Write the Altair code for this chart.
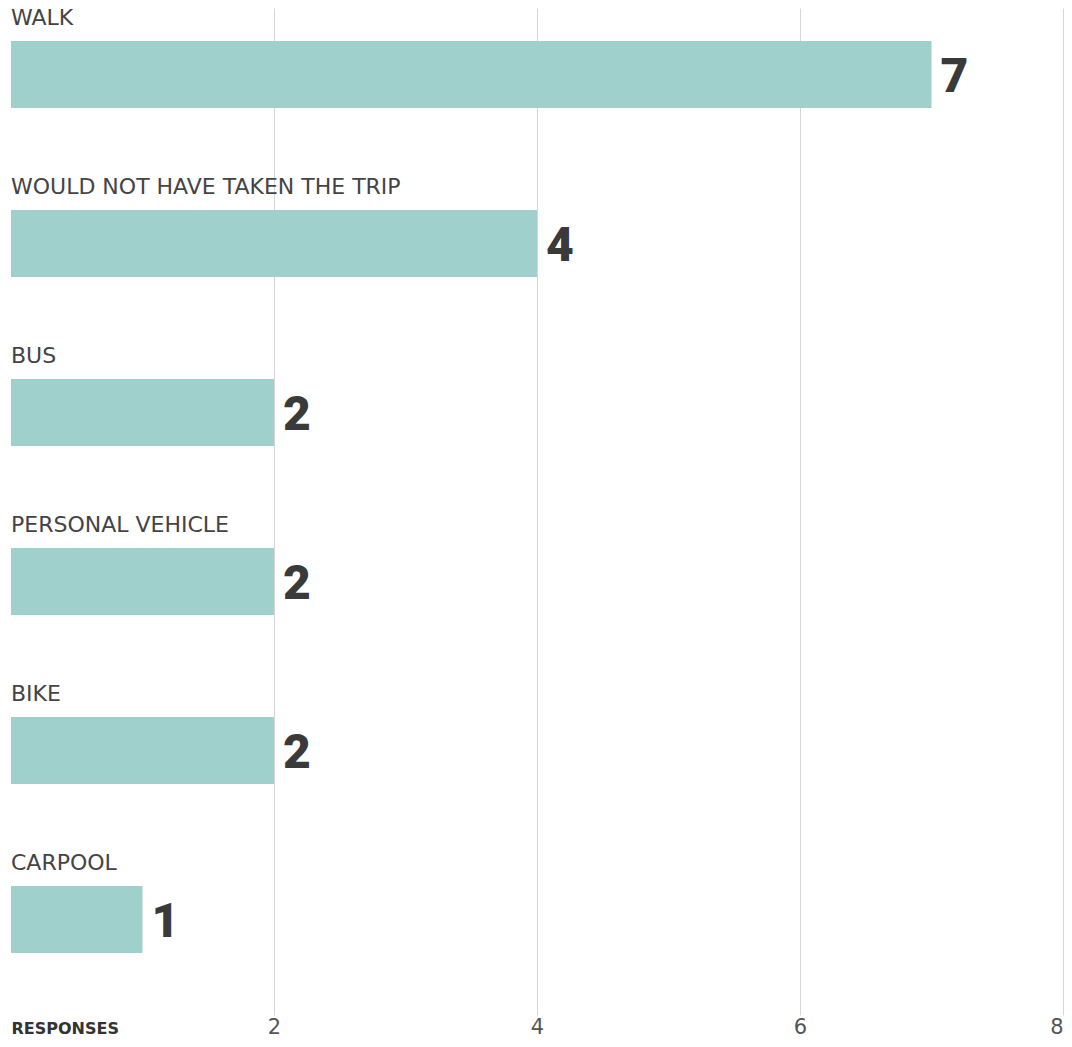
import altair as alt
import pandas as pd

categories = ["WALK", "WOULD NOT HAVE TAKEN THE TRIP", "BUS", "PERSONAL VEHICLE", "BIKE", "CARPOOL"]
responses = [7, 4, 2, 2, 2, 1]
tick_values = [2, 4, 6, 8]

df = pd.DataFrame({"mode": categories, "responses": responses})

y_enc = alt.Y(
    "mode:N",
    sort=categories,
    axis=None,
    scale=alt.Scale(paddingInner=0.6036, paddingOuter=0.281, align=0.347),
)

x_scale = alt.Scale(domain=[0, 8], nice=False, zero=True)

base = alt.Chart(df)

bars = base.mark_bar(color="#9fd0cb").encode(
    x=alt.X(
        "responses:Q",
        scale=x_scale,
        axis=alt.Axis(
            values=tick_values,
            format="d",
            grid=True,
            gridColor="#d6d6d6",
            gridWidth=1,
            domain=False,
            ticks=False,
            tickSize=0,
            labelFont="DejaVu Sans",
            labelFontSize=21,
            labelColor="#555555",
            labelBaseline="alphabetic",
            labelPadding=18,
            labelFlush=True,
            title="RESPONSES",
            titleFont="DejaVu Sans",
            titleFontSize=16,
            titleFontWeight="bold",
            titleColor="#333333",
            titleAnchor="start",
            titleAlign="left",
            titleBaseline="alphabetic",
            titleX=0,
            titleY=18,
        ),
    ),
    y=y_enc,
)

cat_labels = base.mark_text(
    align="left",
    baseline="alphabetic",
    dy=-49.5,
    font="DejaVu Sans",
    fontSize=22,
    color="#444444",
).encode(
    x=alt.datum(0, scale=x_scale),
    y=y_enc,
    text="mode:N",
)

val_labels = base.mark_text(
    align="left",
    baseline="alphabetic",
    dx=9,
    dy=17.5,
    font="Roboto",
    fontSize=48,
    fontWeight=900,
    color="#3a3a3a",
).encode(
    x=alt.X("responses:Q", scale=x_scale),
    y=y_enc,
    text="responses:Q",
)

chart = (
    alt.layer(bars, cat_labels, val_labels)
    .properties(
        width=1052,
        height=1007,
        background="white",
        autosize=alt.AutoSizeParams(type="none"),
        padding={"left": 3, "top": 0, "right": 1, "bottom": 24},
    )
    .configure_view(strokeWidth=0, stroke="transparent")
)

chart.save("out.html", embed_options={"renderer": "svg", "actions": False})
